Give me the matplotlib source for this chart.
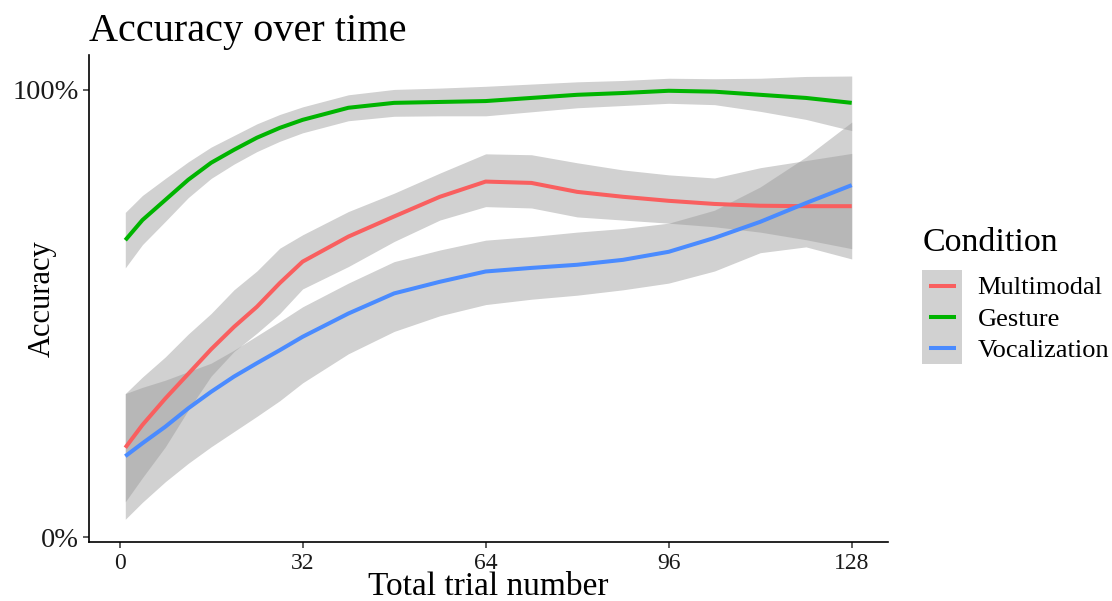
import numpy as np
import matplotlib
matplotlib.use('Agg')
import matplotlib.pyplot as plt
from matplotlib.patches import Rectangle
from matplotlib.lines import Line2D

plt.rcParams['font.family'] = ['Liberation Serif', 'DejaVu Serif']

trial = [1, 4, 8, 12, 16, 20, 24, 28, 32, 40, 48, 56, 64, 72, 80, 88, 96, 104, 112, 120, 128]

multi_mean = [0.200, 0.251, 0.310, 0.365, 0.420, 0.470, 0.515, 0.568, 0.616, 0.672, 0.717, 0.761, 0.795,
              0.792, 0.772, 0.761, 0.752, 0.745, 0.741, 0.740, 0.740]
multi_lo = [0.079, 0.133, 0.202, 0.284, 0.360, 0.415, 0.456, 0.500, 0.555, 0.605, 0.661, 0.709, 0.739,
            0.736, 0.716, 0.709, 0.702, 0.694, 0.682, 0.665, 0.645]
multi_hi = [0.321, 0.358, 0.403, 0.454, 0.500, 0.553, 0.595, 0.646, 0.676, 0.728, 0.769, 0.814, 0.857,
            0.855, 0.837, 0.821, 0.810, 0.803, 0.826, 0.842, 0.858]

gest_mean = [0.664, 0.709, 0.754, 0.799, 0.837, 0.866, 0.893, 0.915, 0.933, 0.960, 0.971, 0.973, 0.975,
             0.982, 0.989, 0.993, 0.998, 0.996, 0.989, 0.982, 0.971]
gest_lo = [0.602, 0.654, 0.706, 0.759, 0.802, 0.834, 0.862, 0.885, 0.904, 0.931, 0.941, 0.942, 0.942,
           0.951, 0.960, 0.965, 0.970, 0.967, 0.952, 0.934, 0.909]
gest_hi = [0.726, 0.764, 0.802, 0.839, 0.872, 0.898, 0.924, 0.945, 0.962, 0.989, 1.001, 1.004, 1.008,
           1.013, 1.018, 1.021, 1.026, 1.025, 1.026, 1.030, 1.031]

voc_mean = [0.181, 0.210, 0.247, 0.288, 0.325, 0.359, 0.389, 0.418, 0.448, 0.500, 0.545, 0.571, 0.594,
            0.602, 0.609, 0.620, 0.638, 0.669, 0.705, 0.747, 0.787]
voc_lo = [0.040, 0.078, 0.124, 0.165, 0.202, 0.236, 0.270, 0.305, 0.345, 0.410, 0.460, 0.495, 0.520,
          0.532, 0.541, 0.553, 0.568, 0.595, 0.636, 0.649, 0.622]
voc_hi = [0.321, 0.335, 0.351, 0.370, 0.389, 0.418, 0.450, 0.482, 0.515, 0.568, 0.616, 0.642, 0.664,
          0.672, 0.682, 0.690, 0.702, 0.731, 0.783, 0.850, 0.928]

conditions = ['Multimodal', 'Gesture', 'Vocalization']
colors = ['#F95F5F', '#00B400', '#4A8BFF']
means = [multi_mean, gest_mean, voc_mean]
lows = [multi_lo, gest_lo, voc_lo]
highs = [multi_hi, gest_hi, voc_hi]

ribbon_col = '#999999'
ribbon_alpha = 0.45
lw = 2.9


class KeyHandler:
    # grey ribbon box with a short coloured line, like ggplot's smooth key
    def __init__(self, color):
        self.color = color

    def legend_artist(self, legend, orig_handle, fontsize, handlebox):
        x0, y0 = -handlebox.xdescent, -handlebox.ydescent
        w, h = handlebox.width, handlebox.height
        tr = handlebox.get_transform()
        rect = Rectangle((x0, y0), w, h, facecolor=ribbon_col, alpha=ribbon_alpha,
                         edgecolor='none', transform=tr)
        line = Line2D([x0 + 0.17 * w, x0 + 0.85 * w], [y0 + h / 2] * 2, color=self.color,
                      lw=lw, solid_capstyle='butt', transform=tr)
        handlebox.add_artist(rect)
        handlebox.add_artist(line)
        return rect


fig = plt.figure(figsize=(11.12, 6.01), dpi=100)
ax = fig.add_axes([0.080, 0.098, 0.7186, 0.8105])

lines = []
for name, col, m, lo, hi in zip(conditions, colors, means, lows, highs):
    ax.fill_between(trial, lo, hi, color=ribbon_col, alpha=ribbon_alpha, lw=0)
    ln, = ax.plot(trial, m, color=col, lw=lw, solid_capstyle='butt', solid_joinstyle='round')
    lines.append(ln)

ax.set_xlim(-5.35, 134.35)
ax.set_ylim(-0.011, 1.078)
ax.set_xticks([0, 32, 64, 96, 128])
ax.set_yticks([0, 1])
ax.set_yticklabels(['0%', '100%'])
ax.tick_params(length=4, width=1.1, color='#333333', labelcolor='#1a1a1a')
ax.tick_params(axis='x', labelsize=17)
ax.tick_params(axis='y', labelsize=20.5)
for s in ['top', 'right']:
    ax.spines[s].set_visible(False)
for s in ['left', 'bottom']:
    ax.spines[s].set_linewidth(1.2)

ax.set_xlabel('Total trial number', fontsize=24)
ax.xaxis.set_label_coords(0.5, -0.060)
ax.set_ylabel('Accuracy', fontsize=22)
ax.yaxis.set_label_coords(-0.040, 0.5)
ax.set_title('Accuracy over time', fontsize=29, loc='left', pad=10)

fig.text(923 / 1112, 1 - 243 / 601, 'Condition', fontsize=24.5, ha='left', va='center')
leg = ax.legend(lines, conditions, loc='upper left',
                handler_map={ln: KeyHandler(c) for ln, c in zip(lines, colors)},
                bbox_to_anchor=(922 / 1112, 1 - 270 / 601), bbox_transform=fig.transFigure,
                frameon=False, fontsize=19, handlelength=1.5,
                handleheight=1.45, labelspacing=0, handletextpad=0.6, borderpad=0,
                borderaxespad=0)

fig.savefig('out.png', dpi=100)
